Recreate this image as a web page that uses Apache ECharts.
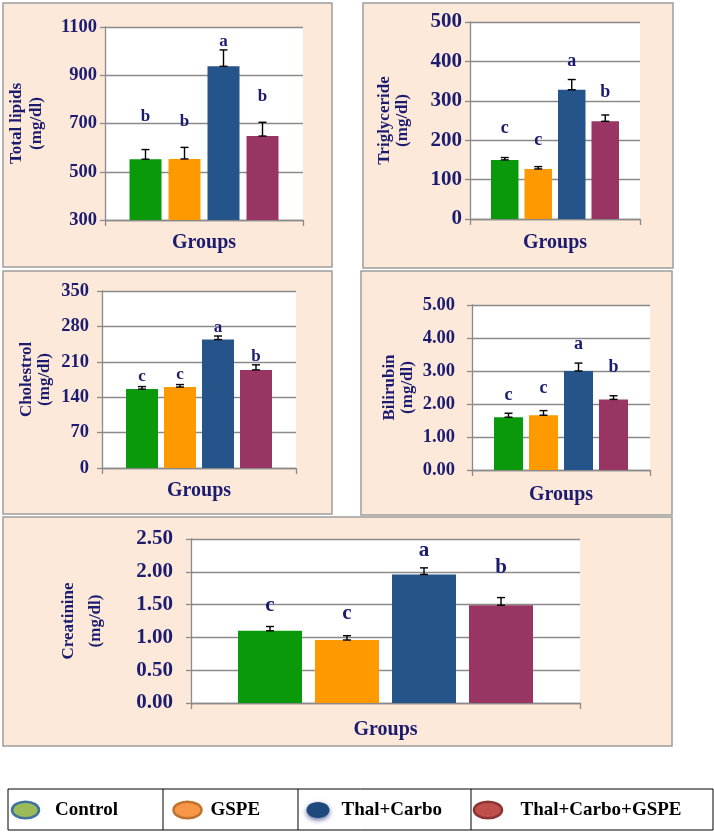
<!DOCTYPE html>
<html><head><meta charset="utf-8">
<script src="https://cdn.jsdelivr.net/npm/echarts@6/dist/echarts.min.js"></script>
<style>html,body{margin:0;padding:0;background:#fff;}#c{width:714px;height:833px;}</style>
</head><body><div id="c"></div>
<script>
// ---------------- DATA ----------------
const groups = ['Control', 'GSPE', 'Thal+Carbo', 'Thal+Carbo+GSPE'];
const xCategory = ['Groups'];

const totalLipids = [552, 553, 937, 648];
const totalLipidsErr = [40, 48, 68, 57];
const totalLipidsLetters = ['b', 'b', 'a', 'b'];
const totalLipidsLetterPos = [727, 706, 1038, 810];
const totalLipidsTicks = [300, 500, 700, 900, 1100];

const triglyceride = [150, 127, 328, 248];
const triglycerideErr = [6, 6, 26, 16];
const triglycerideLetters = ['c', 'c', 'a', 'b'];
const triglycerideLetterPos = [231, 200, 401, 321];
const triglycerideTicks = [0, 100, 200, 300, 400, 500];

const cholesterol = [156, 160, 254, 194];
const cholesterolErr = [5, 5, 7, 10];
const cholesterolLetters = ['c', 'c', 'a', 'b'];
const cholesterolLetterPos = [180, 185, 277, 221];
const cholesterolTicks = [0, 70, 140, 210, 280, 350];

const bilirubin = [1.60, 1.66, 3.00, 2.14];
const bilirubinErr = [0.12, 0.14, 0.24, 0.11];
const bilirubinLetters = ['c', 'c', 'a', 'b'];
const bilirubinLetterPos = [2.25, 2.47, 3.80, 3.12];
const bilirubinTicks = [0, 1, 2, 3, 4, 5];

const creatinine = [1.10, 0.96, 1.96, 1.49];
const creatinineErr = [0.066, 0.066, 0.10, 0.117];
const creatinineLetters = ['c', 'c', 'a', 'b'];
const creatinineLetterPos = [1.49, 1.37, 2.32, 2.06];
const creatinineTicks = [0, 0.5, 1, 1.5, 2, 2.5];

// ---------------- STYLE / LAYOUT ----------------
const navy = '#1b1b70';
const serif = "'Liberation Serif', 'Times New Roman', serif";
const barColors = ['#0a990a', '#ff9900', '#245489', '#983563'];
const legendFill = ['#9bbb59', '#f79646', '#1f497d', '#c0504d'];
const legendStroke = ['#41719c', '#c0712e', '#1f497d', '#8c3533'];
const panelBg = '#fde9d9';
const panelBorder = '#9d9d9d';
const gridColor = '#8a8a8a';

const panels = [
  { title: 'Total lipids', values: totalLipids, err: totalLipidsErr, letters: totalLipidsLetters, letterPos: totalLipidsLetterPos, ticks: totalLipidsTicks, dec: 0,
    box: [3, 3, 329, 264], grid: [105, 27, 198, 193], bw: 32, gap: 7, labelMargin: 8, nameGap: 58, nameLH: 20, xNameGap: 13, letterSize: 17, tickSize: 18.5 },
  { title: 'Triglyceride', values: triglyceride, err: triglycerideErr, letters: triglycerideLetters, letterPos: triglycerideLetterPos, ticks: triglycerideTicks, dec: 0,
    box: [363, 3, 310, 265], grid: [470, 22, 170, 197], bw: 27.5, gap: 6, labelMargin: 8, nameGap: 58, nameLH: 18, xNameGap: 14, letterSize: 18, tickSize: 21 },
  { title: 'Cholestrol', values: cholesterol, err: cholesterolErr, letters: cholesterolLetters, letterPos: cholesterolLetterPos, ticks: cholesterolTicks, dec: 0,
    box: [3, 271, 329, 243], grid: [102, 291, 194, 177], bw: 32, gap: 6, labelMargin: 13, nameGap: 48, nameLH: 18, xNameGap: 13, letterSize: 17, tickSize: 18.5 },
  { title: 'Bilirubin', values: bilirubin, err: bilirubinErr, letters: bilirubinLetters, letterPos: bilirubinLetterPos, ticks: bilirubinTicks, dec: 2,
    box: [361, 271, 311, 244], grid: [472, 305, 178, 165], bw: 29, gap: 6, labelMargin: 17, nameGap: 55, nameLH: 18, xNameGap: 15, letterSize: 18, tickSize: 18.5 },
  { title: 'Creatinine', values: creatinine, err: creatinineErr, letters: creatinineLetters, letterPos: creatinineLetterPos, ticks: creatinineTicks, dec: 2,
    box: [3, 517, 669, 229], grid: [191, 539, 389, 164], bw: 64, gap: 13, labelMargin: 18, nameGap: 82, nameLH: 27, xNameGap: 17, letterSize: 21, tickSize: 21 }
];

const legendBox = [8, 789, 705, 41];
const legendDividers = [163, 298, 471];
const legendMarkers = [[25.5, 810, 13.5, 8.3], [187.5, 810, 14, 8.3], [318, 810, 11.5, 8], [488, 810, 14, 8.3]];
const legendTextX = [55, 210.5, 341.5, 520.5];

// ---------------- BUILD ----------------
const grids = [], xAxes = [], yAxes = [], series = [], graphics = [];

panels.forEach((p, pi) => {
  graphics.push({ type: 'rect', z: -10, shape: { x: p.box[0], y: p.box[1], width: p.box[2], height: p.box[3] },
    style: { fill: panelBg, stroke: panelBorder, lineWidth: 1.5 } });
  grids.push({ left: p.grid[0], top: p.grid[1], width: p.grid[2], height: p.grid[3], show: true,
    backgroundColor: '#fff', borderWidth: 0, containLabel: false, outerBoundsMode: 'none' });
  xAxes.push({ type: 'category', gridIndex: pi, data: [''],
    name: xCategory[0], nameLocation: 'middle', nameGap: p.xNameGap,
    nameTextStyle: { fontFamily: serif, fontWeight: 'bold', fontSize: 20, color: navy, lineHeight: 20 },
    axisLine: { show: true, lineStyle: { color: gridColor, width: 1.3 } },
    axisTick: { show: true, length: 6, lineStyle: { color: gridColor, width: 1.3 } },
    axisLabel: { show: false }, splitLine: { show: false } });
  const t = p.ticks;
  yAxes.push({ type: 'value', gridIndex: pi, min: t[0], max: t[t.length - 1], interval: t[1] - t[0],
    name: p.title + '\n(mg/dl)', nameLocation: 'middle', nameGap: p.nameGap, nameRotate: 90,
    nameTextStyle: { fontFamily: serif, fontWeight: 'bold', fontSize: 17, color: navy, lineHeight: p.nameLH, align: 'center' },
    axisLine: { show: true, lineStyle: { color: gridColor, width: 1.3 } },
    axisTick: { show: true, length: 5, lineStyle: { color: gridColor, width: 1.3 } },
    axisLabel: { margin: p.labelMargin, fontFamily: serif, fontWeight: 'bold', fontSize: p.tickSize, color: navy,
      formatter: v => v.toFixed(p.dec) },
    splitLine: { show: true, lineStyle: { color: gridColor, width: 1.3 } } });
  groups.forEach((g, k) => {
    series.push({ type: 'bar', name: g, xAxisIndex: pi, yAxisIndex: pi, data: [p.values[k]],
      barWidth: p.bw, barGap: (p.gap / p.bw * 100) + '%', itemStyle: { color: barColors[k] }, z: 2,
      silent: true });
  });
  const bw = p.bw, gap = p.gap, letters = p.letters, lsz = p.letterSize;
  series.push({ type: 'custom', xAxisIndex: pi, yAxisIndex: pi, z: 5, silent: true,
    data: groups.map((g, k) => [0, p.values[k], p.err[k], k, p.letterPos[k]]),
    encode: { x: 0, y: 1 },
    renderItem: (params, api) => {
      const k = api.value(3);
      const off = (k - 1.5) * (bw + gap);
      const base = api.coord([0, api.value(1)]);
      const top = api.coord([0, api.value(1) + api.value(2)]);
      const lp = api.coord([0, api.value(4)]);
      const x = base[0] + off;
      const cap = 4;
      const st = { stroke: '#000', lineWidth: 1.4 };
      return { type: 'group', children: [
        { type: 'line', shape: { x1: x, y1: base[1], x2: x, y2: top[1] }, style: st },
        { type: 'line', shape: { x1: x - cap, y1: top[1], x2: x + cap, y2: top[1] }, style: st },
        { type: 'line', shape: { x1: x - cap, y1: base[1], x2: x + cap, y2: base[1] }, style: st },
        { type: 'text', x: x, y: lp[1], style: { text: letters[k], fill: navy, font: 'bold ' + lsz + 'px ' + serif,
          textAlign: 'center', textVerticalAlign: 'middle' } }
      ] };
    } });
});

// legend table
graphics.push({ type: 'rect', shape: { x: legendBox[0], y: legendBox[1], width: legendBox[2], height: legendBox[3] },
  style: { fill: '#fff', stroke: '#000', lineWidth: 1 } });
legendDividers.forEach(x => graphics.push({ type: 'line',
  shape: { x1: x, y1: legendBox[1], x2: x, y2: legendBox[1] + legendBox[3] }, style: { stroke: '#000', lineWidth: 1 } }));
groups.forEach((g, k) => {
  const m = legendMarkers[k];
  const el = { type: 'ellipse', shape: { cx: m[0], cy: m[1], rx: m[2], ry: m[3] },
    style: { fill: legendFill[k], stroke: legendStroke[k], lineWidth: 2.5 } };
  if (k === 2) { el.style.lineWidth = 0; el.style.shadowBlur = 5; el.style.shadowColor = 'rgba(30,40,120,0.7)'; el.style.shadowOffsetY = 2; }
  graphics.push(el);
  graphics.push({ type: 'text', x: legendTextX[k], y: m[1],
    style: { text: g, fill: '#000', font: 'bold 19px ' + serif, textAlign: 'left', textVerticalAlign: 'middle' } });
});

const chart = echarts.init(document.getElementById('c'), null, { renderer: 'canvas' });
chart.setOption({
  backgroundColor: '#fff',
  animation: false,
  grid: grids, xAxis: xAxes, yAxis: yAxes, series: series,
  graphic: { elements: graphics }
});
</script>
</body></html>
